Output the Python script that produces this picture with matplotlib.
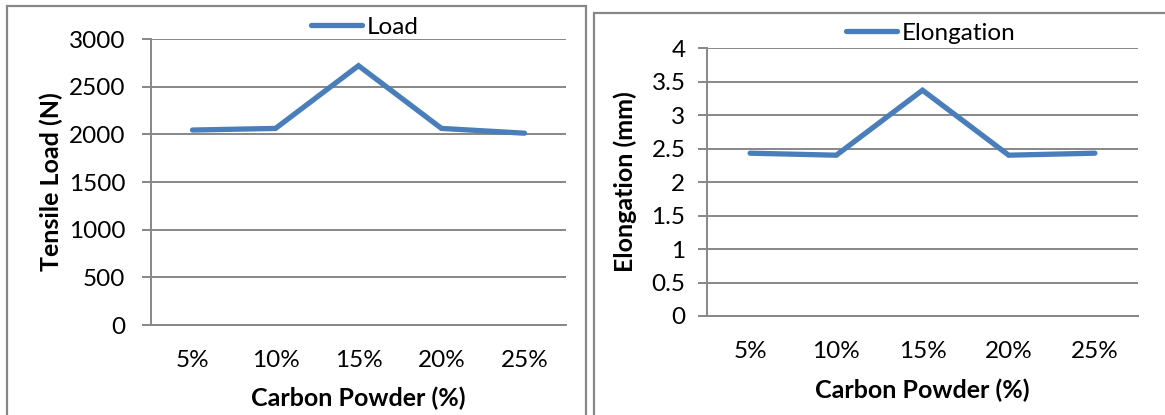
import matplotlib
matplotlib.use("Agg")
import matplotlib.pyplot as plt
from matplotlib.patches import Rectangle

plt.rcParams['font.family'] = ['Lato', 'DejaVu Sans']

categories = ["5%", "10%", "15%", "20%", "25%"]
load = [2045, 2062, 2720, 2062, 2012]
elongation = [2.43, 2.40, 3.37, 2.40, 2.43]
load_ticks = [0, 500, 1000, 1500, 2000, 2500, 3000]
elong_ticks = [0, 0.5, 1, 1.5, 2, 2.5, 3, 3.5, 4]
elong_labels = ["0", "0.5", "1", "1.5", "2", "2.5", "3", "3.5", "4"]

W, H = 1165, 415
grey = "#878787"
blue = "#4A7EBB"
fs = 17.5
fs_title = 18

fig = plt.figure(figsize=(W / 100, H / 100), dpi=100)


def px_axes(x0, x1, ytop, ybot):
    return fig.add_axes([x0 / W, 1 - ybot / H, (x1 - x0) / W, (ybot - ytop) / H])


def style(ax, values, ticks, labels, ylim, ylabel, ypad, ylab_x, xlab_y, name):
    x = list(range(len(categories)))
    ax.plot(x, values, color=blue, lw=3.8, solid_capstyle="round",
            solid_joinstyle="miter", label=name)
    ax.set_xlim(-0.5, len(categories) - 0.5)
    ax.set_ylim(*ylim)
    ax.set_yticks(ticks)
    ax.set_yticklabels(labels)
    ax.set_xticks(x)
    ax.set_xticklabels(categories)
    ax.grid(axis="y", color=grey, lw=1.4)
    ax.set_axisbelow(True)
    for s in ["top", "right"]:
        ax.spines[s].set_visible(False)
    for s in ["left", "bottom"]:
        ax.spines[s].set_color(grey)
        ax.spines[s].set_linewidth(1.4)
    ax.tick_params(axis="y", length=6.5, width=1.4, color=grey, pad=ypad, labelsize=fs)
    ax.tick_params(axis="x", length=0, pad=18, labelsize=fs)
    ax.set_xlabel("Carbon Powder (%)", fontsize=fs_title, fontweight="bold", va="center")
    ax.set_ylabel(ylabel, fontsize=fs_title, fontweight="bold", va="center")
    ax.xaxis.set_label_coords(0.5, xlab_y)
    ax.yaxis.set_label_coords(ylab_x, 0.5)


# outer chart boxes
fig.patches.append(Rectangle((7 / W, -0.1), (586 - 7) / W, 1.1 - 6 / H,
                             transform=fig.transFigure, fill=False, ec=grey, lw=1.6))
fig.patches.append(Rectangle((594 / W, -0.1), 0.5, 1.1 - 13 / H,
                             transform=fig.transFigure, fill=False, ec=grey, lw=1.6))

ax1 = px_axes(151, 566, 39, 325)
style(ax1, load, load_ticks, [str(t) for t in load_ticks], (0, 3000),
      "Tensile Load (N)", 12, -0.24, -0.255, "Load")
ax2 = px_axes(707, 1138, 48, 316)
style(ax2, elongation, elong_ticks, elong_labels, (0, 4),
      "Elongation (mm)", 9, -0.189, -0.276, "Elongation")

for ax, x0, yc in [(ax1, 311, 27), (ax2, 846, 33)]:
    ax.legend(loc="center left", bbox_to_anchor=(x0 / W, 1 - yc / H),
              bbox_transform=fig.transFigure, frameon=False, fontsize=fs,
              borderpad=0, borderaxespad=0, handlelength=2.1, handletextpad=0.2)

fig.savefig("out.png", dpi=100)
